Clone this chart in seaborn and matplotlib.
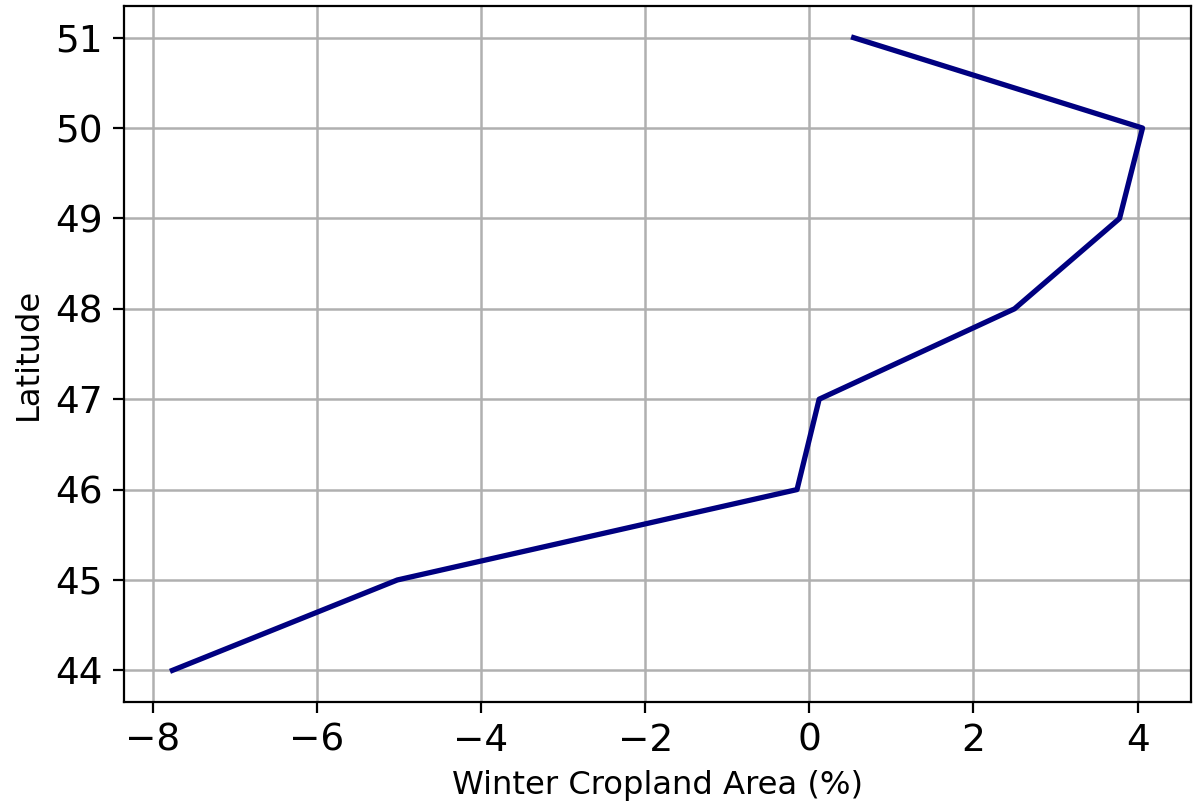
import matplotlib
matplotlib.use("Agg")
import matplotlib.pyplot as plt
import seaborn as sns
import pandas as pd

# Mean change in winter cropland area by latitude band
latitude = [44, 45, 46, 47, 48, 49, 50, 51]
cropland_change = [-7.76, -5.02, -0.15, 0.12, 2.50, 3.78, 4.06, 0.54]

df = pd.DataFrame({"Latitude": latitude, "Winter Cropland Area (%)": cropland_change})

plt.rcParams["font.family"] = ["DejaVu Sans"]
plt.rcParams["font.size"] = 10

fig, ax = plt.subplots(figsize=(6.005, 4.01), dpi=200)
fig.subplots_adjust(left=0.1032, right=0.9917, top=0.9925, bottom=0.1247)

sns.lineplot(data=df, x="Winter Cropland Area (%)", y="Latitude",
             sort=False, color="navy", linewidth=1.9, ax=ax)

ax.set_xticks([-8, -6, -4, -2, 0, 2, 4])
ax.set_yticks(latitude)
ax.tick_params(labelsize=13.5, length=4)
ax.set_xlabel("Winter Cropland Area (%)", fontsize=11.6)
ax.set_ylabel("Latitude", fontsize=11.6)
ax.grid(True, color="#b0b0b0", linewidth=0.9)
ax.set_axisbelow(True)

fig.savefig("out.png", dpi=200)
